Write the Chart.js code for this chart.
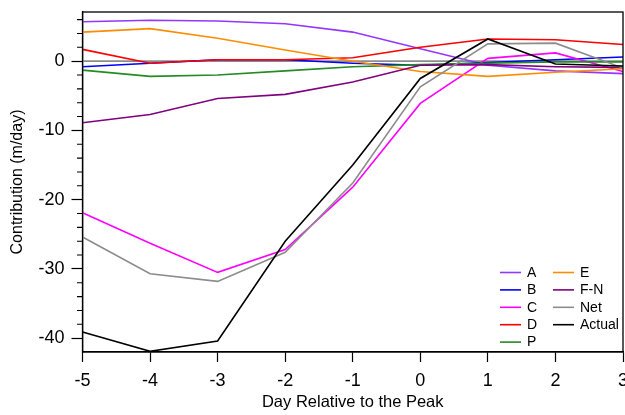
<!DOCTYPE html>
<html>
<head>
<meta charset="utf-8">
<script src="https://cdn.jsdelivr.net/npm/chart.js@4"></script>
<style>
html,body{margin:0;padding:0;background:#fff;}
#wrap{position:relative;width:625px;height:415px;overflow:hidden;}
</style>
</head>
<body>
<div id="wrap"><canvas id="c" width="625" height="415"></canvas></div>
<script>
const days = [-5, -4, -3, -2, -1, 0, 1, 2, 3];
const seriesNames = ["A", "B", "C", "D", "P", "E", "F-N", "Net", "Actual"];
const A      = [5.7, 5.9, 5.8, 5.4, 4.2, 1.8, -0.6, -1.4, -1.8];
const B      = [-0.8, -0.3, 0.2, 0.2, -0.3, -0.6, -0.2, 0.2, 0.6];
const C      = [-21.9, -26.3, -30.5, -27.2, -18.2, -6.1, 0.4, 1.2, -1.5];
const D      = [1.7, -0.3, 0.2, 0.2, 0.5, 2.0, 3.2, 3.1, 2.4];
const P      = [-1.3, -2.2, -2.0, -1.4, -0.8, -0.5, -0.3, -0.1, -0.1];
const E      = [4.2, 4.7, 3.3, 1.6, 0.0, -1.5, -2.2, -1.6, -1.1];
const FN     = [-8.9, -7.7, -5.4, -4.8, -3.0, -0.6, -0.5, -0.8, -0.9];
const Net    = [-25.4, -30.7, -31.8, -27.6, -17.6, -3.7, 2.5, 2.6, -1.0];
const Actual = [-39.1, -41.9, -40.4, -26.0, -15.0, -2.5, 3.2, -0.4, -0.7];
const xTicks = [-5, -4, -3, -2, -1, 0, 1, 2, 3];
const yTicks = [-40, -30, -20, -10, 0];

const seriesValues = [A, B, C, D, P, E, FN, Net, Actual];
const colors = ["#9436ff", "#0000ff", "#ff00ff", "#ff0000", "#228b22", "#ff8c00", "#800080", "#8c8c8c", "#000000"];
const FONT = "'Liberation Sans', Arial, Helvetica, sans-serif";

const datasets = seriesNames.map((n, i) => ({
  label: n,
  data: days.map((d, k) => ({x: d, y: seriesValues[i][k]})),
  borderColor: colors[i],
  backgroundColor: colors[i],
  borderWidth: 1.6,
  pointRadius: 0,
  tension: 0,
  fill: false,
  order: seriesNames.length - i
}));

const extras = {
  id: 'extras',
  beforeDatasetsDraw(chart) {
    const ctx = chart.ctx, a = chart.chartArea, ys = chart.scales.y;
    const y0 = ys.getPixelForValue(0);
    ctx.save();
    ctx.strokeStyle = '#8c8c8c';
    ctx.lineWidth = 1.6;
    ctx.beginPath(); ctx.moveTo(a.left, y0); ctx.lineTo(a.right, y0); ctx.stroke();
    ctx.restore();
  },
  afterDraw(chart) {
    const ctx = chart.ctx, a = chart.chartArea, ys = chart.scales.y;
    ctx.save();
    ctx.strokeStyle = '#000';
    ctx.lineWidth = 1.3;
    ctx.strokeRect(a.left, a.top, a.right - a.left, a.bottom - a.top);
    ctx.lineWidth = 1.1;
    ctx.beginPath();
    for (let v = -42; v <= 7; v += 2) {
      if (v % 10 === 0) continue;
      const p = ys.getPixelForValue(v);
      if (p < a.top + 0.5 || p > a.bottom - 0.5) continue;
      ctx.moveTo(a.left - 5.5, p); ctx.lineTo(a.left, p);
    }
    ctx.stroke();
    ctx.font = "14px " + FONT;
    ctx.textBaseline = 'middle';
    ctx.textAlign = 'left';
    chart.data.datasets.forEach((ds, i) => {
      const col = i < 5 ? 0 : 1;
      const row = i < 5 ? i : i - 5;
      const lx = col === 0 ? 500 : 553;
      const y = 272.5 + row * 17.4;
      ctx.strokeStyle = ds.borderColor;
      ctx.lineWidth = 1.6;
      ctx.beginPath(); ctx.moveTo(lx, y); ctx.lineTo(lx + 21, y); ctx.stroke();
      ctx.fillStyle = '#000';
      ctx.fillText(ds.label, lx + 27, y + 0.5);
    });
    ctx.restore();
  }
};

new Chart(document.getElementById('c'), {
  type: 'line',
  data: { datasets },
  options: {
    responsive: false,
    animation: false,
    layout: { padding: { top: 12, right: 2, left: 0, bottom: 0 } },
    plugins: { legend: { display: false }, tooltip: { enabled: false } },
    scales: {
      x: {
        type: 'linear', min: -5, max: 3,
        afterBuildTicks(s) { s.ticks = xTicks.map(v => ({value: v})); },
        afterFit(s) { s.height = 63; s.paddingLeft = 0; s.paddingRight = 0; },
        grid: { drawOnChartArea: false, drawTicks: true, tickLength: 10, tickColor: '#000', tickWidth: 1.2 },
        border: { display: true, color: '#000', width: 1.3 },
        ticks: { color: '#000', font: { family: FONT, size: 18 }, padding: 8, maxRotation: 0, autoSkip: false },
        title: { display: true, text: 'Day Relative to the Peak', color: '#000', font: { family: FONT, size: 16.5 }, padding: { top: 2, bottom: 3 } }
      },
      y: {
        type: 'linear', min: -42, max: 7.1,
        afterBuildTicks(s) { s.ticks = yTicks.map(v => ({value: v})); },
        afterFit(s) { s.width = 82.5; s.paddingTop = 0; s.paddingBottom = 0; },
        grid: { drawOnChartArea: false, drawTicks: true, tickLength: 11, tickColor: '#000', tickWidth: 1.2 },
        border: { display: true, color: '#000', width: 1.3 },
        ticks: { color: '#000', font: { family: FONT, size: 18 }, padding: 7, autoSkip: false },
        title: { display: true, text: 'Contribution (m/day)', color: '#000', font: { family: FONT, size: 16 }, padding: { top: 8, bottom: 4 } }
      }
    }
  },
  plugins: [extras]
});
</script>
</body>
</html>
